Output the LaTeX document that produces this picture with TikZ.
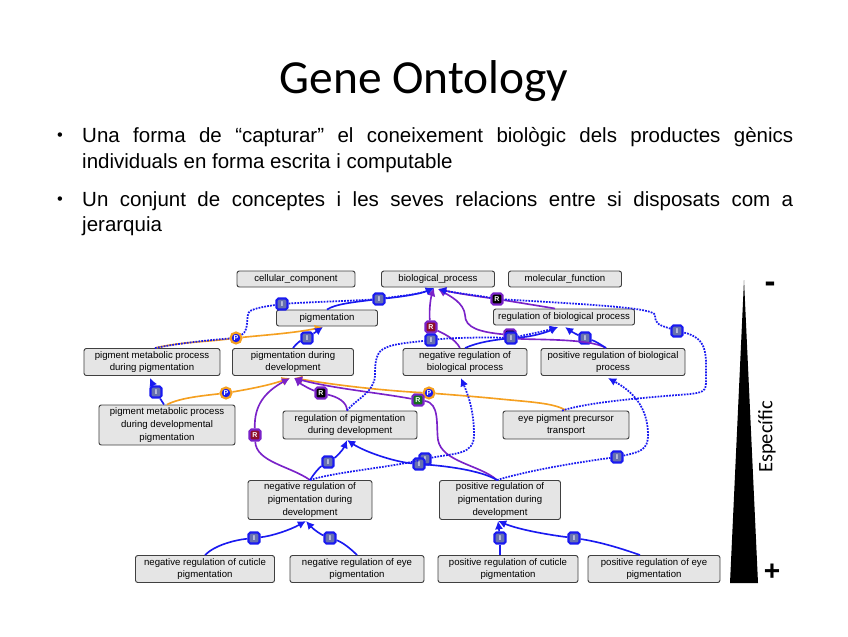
\documentclass[tikz,border=0pt]{standalone}
\usepackage{fontspec}
\setmainfont{Liberation Sans}
\newfontfamily\titlefont{Carlito}
\usetikzlibrary{arrows.meta, calc}
\definecolor{badgeblue}{HTML}{6670B0}
\definecolor{isablue}{HTML}{1A1AF0}
\definecolor{partorange}{HTML}{F5A020}
\definecolor{regpurple}{HTML}{7A22C8}
\definecolor{regred}{HTML}{8E0F2A}
\definecolor{reggreen}{HTML}{14701E}
\tikzset{
  termbox/.style={draw=black!75, line width=0.8pt, rounded corners=2pt, fill=black!10, align=center, font=\fontsize{8.2}{11}\selectfont, inner sep=0pt},
  isaedge/.style={draw=isablue, line width=1.4pt},
  dotedge/.style={draw=isablue, line width=1.5pt, densely dotted},
  partedge/.style={draw=partorange, line width=1.4pt},
  regedge/.style={draw=regpurple, line width=1.4pt},
  badge/.style={rectangle, rounded corners=1.5pt, minimum size=0.33cm, inner sep=0pt, line width=1.8pt, text=white, font=\fontsize{6}{6}\bfseries\selectfont},
  ibadge/.style={badge, draw=isablue, fill=badgeblue},
  pbadge/.style={badge, circle, minimum size=0.33cm, draw=partorange, fill=isablue},
  rblack/.style={badge, draw=regpurple, fill=black},
  rred/.style={badge, draw=regpurple, fill=regred},
  rgreen/.style={badge, draw=regpurple, fill=reggreen},
  bodytext/.style={anchor=north west, inner sep=0pt, text width=21.33cm, align=justify, font=\fontsize{17.5}{22}\selectfont}
}

\begin{document}
\begin{tikzpicture}[x=0.03cm, y=-0.03cm, >={Latex[length=7pt,width=7pt]}]
\useasboundingbox (0,0) rectangle (848,636);

% Title and bullets
\node[font=\titlefont\fontsize{40.5}{44}\selectfont, inner sep=0pt] (title) at (424,81) {Gene Ontology};
\node[font=\fontsize{14}{22}\selectfont, inner sep=0pt] (dot1) at (60,137) {•};
\node[bodytext] (text1) at (82,127) {Una forma de “capturar” el coneixement biològic dels productes gènics\linebreak individuals en forma escrita i computable};
\node[font=\fontsize{14}{22}\selectfont, inner sep=0pt] (dot2) at (60,201) {•};
\node[bodytext] (text2) at (82,191) {Un conjunt de conceptes i les seves relacions entre si disposats com a\linebreak jerarquia};

% Term boxes
\node[termbox, minimum width=3.54cm, minimum height=0.48cm] (cellular) at (296,279) {cellular\_component};
\node[termbox, minimum width=3.39cm, minimum height=0.48cm] (biological) at (438,279) {biological\_process};
\node[termbox, minimum width=3.39cm, minimum height=0.48cm] (molecular) at (565,279) {molecular\_function};
\node[termbox, minimum width=3.03cm, minimum height=0.48cm] (pigm) at (327,318) {pigmentation};
\node[termbox, minimum width=4.23cm, minimum height=0.48cm] (regbio) at (564,317) {regulation of biological process};
\node[termbox, minimum width=4.08cm, minimum height=0.81cm] (metapigm) at (152,362) {pigment metabolic process\\during pigmentation};
\node[termbox, minimum width=3.63cm, minimum height=0.81cm] (pigmdev) at (293,362) {pigmentation during\\development};
\node[termbox, minimum width=3.72cm, minimum height=0.81cm] (negbio) at (465,362) {negative regulation of\\biological process};
\node[termbox, minimum width=4.32cm, minimum height=0.81cm] (posbio) at (613,362) {positive regulation of biological\\process};
\node[termbox, minimum width=4.08cm, minimum height=1.20cm] (metadev) at (167,425) {pigment metabolic process\\during developmental\\pigmentation};
\node[termbox, minimum width=4.02cm, minimum height=0.84cm] (regpigm) at (350,425) {regulation of pigmentation\\during development};
\node[termbox, minimum width=3.78cm, minimum height=0.84cm] (eyetrans) at (566,425) {eye pigment precursor\\transport};
\node[termbox, minimum width=3.72cm, minimum height=1.17cm] (negpigm) at (310,500) {negative regulation of\\pigmentation during\\development};
\node[termbox, minimum width=3.63cm, minimum height=1.17cm] (pospigm) at (500,500) {positive regulation of\\pigmentation during\\development};
\node[termbox, minimum width=4.17cm, minimum height=0.81cm] (negcut) at (205,569) {negative regulation of cuticle\\pigmentation};
\node[termbox, minimum width=4.02cm, minimum height=0.81cm] (negeye) at (357,569) {negative regulation of eye\\pigmentation};
\node[termbox, minimum width=4.20cm, minimum height=0.81cm] (poscut) at (508,569) {positive regulation of cuticle\\pigmentation};
\node[termbox, minimum width=3.96cm, minimum height=0.81cm] (poseye) at (654,569) {positive regulation of eye\\pigmentation};

% Arrow targets
\coordinate (tipbio) at (434,288);
\coordinate (tipbiob) at (438,289);
\coordinate (tippigm) at (323,327);
\coordinate (tipregbio) at (558,327);
\coordinate (tipregbiob) at (565,327);
\coordinate (tipdev) at (290,378);
\coordinate (tipdevb) at (294,378);
\coordinate (tipmeta) at (150,378);
\coordinate (tipnegbio) at (461,378);
\coordinate (tipposbio) at (608,378);
\coordinate (tipregpigm) at (347,440);
\coordinate (tipnegpigm) at (306,521);
\coordinate (tippospigm) at (498,521);

% Relation badges
\node[ibadge] (b1) at (379,299) {I};
\node[ibadge] (b2) at (282,304) {I};
\node[pbadge] (b3) at (236,338) {P};
\node[ibadge] (b4) at (307,338) {I};
\node[ibadge] (b5) at (156,392) {I};
\node[pbadge] (b6) at (226,393) {P};
\node[rblack] (b7) at (321,393) {R};
\node[rred] (b8) at (255,435) {R};
\node[pbadge] (b10) at (429,393) {P};
\node[rgreen] (b9) at (418,400) {R};
\node[rred] (b11) at (431,327) {R};
\node[ibadge] (b12) at (431,340) {I};
\node[rblack] (b13) at (497,299) {R};
\node[rblack] (b14a) at (510,335) {};
\node[ibadge] (b14) at (511,338) {I};
\node[ibadge] (b15) at (585,338) {I};
\node[ibadge] (b16) at (677,331) {I};
\node[ibadge] (b17) at (617,457) {I};
\node[ibadge] (b18) at (328,462) {I};
\node[ibadge] (b19) at (425,459) {I};
\node[ibadge] (b20) at (419,464) {I};
\node[ibadge] (b21) at (254,538) {I};
\node[ibadge] (b22) at (330,538) {I};
\node[ibadge] (b23) at (500,538) {I};
\node[ibadge] (b24) at (574,538) {I};

% Part of
\draw[partedge] (metapigm.north) ++(3,0) .. controls (180,342) and (205,342) .. (b3);
\draw[->, partedge] (b3) .. controls (265,335) and (295,333) .. (tippigm);
\draw[partedge] (metadev.north) .. controls (180,398) and (200,396) .. (b6);
\draw[->, partedge] (b6) .. controls (250,389) and (270,385) .. (tipdev);
\draw[partedge] (eyetrans.north) .. controls (555,403) and (530,402) .. (500,399) .. controls (480,397) and (455,395) .. (b10);
\draw[->, partedge] (b10) .. controls (390,391) and (340,386) .. (tipdevb);

% Regulates
\draw[regedge] (negpigm.north) .. controls (290,466) and (256,462) .. (b8);
\draw[->, regedge] (b8) .. controls (254,405) and (265,392) .. (tipdev);
\draw[regedge] (regpigm.north) ++(-3,0) .. controls (347,402) and (338,397) .. (b7);
\draw[->, regedge] (b7) .. controls (312,390) and (302,385) .. (tipdevb);
\draw[regedge] (pospigm.north) ++(-3,0) .. controls (480,465) and (442,462) .. (438,440) .. controls (436,425) and (440,403) .. (b9);
\draw[->, regedge] (b9) .. controls (380,393) and (330,388) .. (tipdevb);
\draw[regedge] (negbio.north) ++(-5,0) .. controls (455,338) and (440,332) .. (b11);
\draw[->, regedge] (b11) .. controls (429,315) and (430,300) .. (tipbio);
\draw[regedge] (posbio.north) ++(-7,0) .. controls (590,338) and (530,340) .. (b14);
\draw[->, regedge] (b14a) .. controls (480,332) and (465,328) .. (465,315) .. controls (464,303) and (450,296) .. (tipbiob);
\draw[regedge] (regbio.north) ++(-9,0) .. controls (540,306) and (515,302) .. (b13);
\draw[->, regedge] (b13) .. controls (475,296) and (455,293) .. (tipbiob);

% Is a, solid
\draw[isaedge] (pigm.north) .. controls (335,304) and (355,302) .. (b1);
\draw[->, isaedge] (b1) .. controls (400,297) and (420,294) .. (tipbio);
\draw[isaedge] (pigmdev.north) .. controls (296,344) and (300,341) .. (b4);
\draw[->, isaedge] (b4) -- (tippigm);
\draw[isaedge] (metadev.north) ++(-3,0) -- (b5);
\draw[->, isaedge] (b5) -- (tipmeta);
\draw[isaedge] (negbio.north) .. controls (478,342) and (495,340) .. (b14);
\draw[->, isaedge] (b14) .. controls (530,337) and (545,333) .. (tipregbio);
\draw[isaedge] (posbio.north) ++(-7,0) .. controls (600,344) and (595,341) .. (b15);
\draw[->, isaedge] (b15) .. controls (578,335) and (572,332) .. (tipregbiob);
\draw[isaedge] (negpigm.north) .. controls (315,472) and (320,467) .. (b18);
\draw[->, isaedge] (b18) .. controls (336,457) and (343,450) .. (tipregpigm);
\draw[isaedge] (pospigm.north) ++(-3,0) .. controls (480,470) and (445,466) .. (b20);
\draw[->, isaedge] (b20) .. controls (395,462) and (365,452) .. (tipregpigm);
\draw[isaedge] (negcut.north) .. controls (215,545) and (235,540) .. (b21);
\draw[->, isaedge] (b21) .. controls (272,536) and (290,530) .. (tipnegpigm);
\draw[isaedge] (negeye.north) .. controls (350,548) and (342,542) .. (b22);
\draw[->, isaedge] (b22) .. controls (322,535) and (314,530) .. (tipnegpigm);
\draw[isaedge] (poscut.north) ++(-8,0) -- (b23);
\draw[->, isaedge] (b23) -- (tippospigm);
\draw[isaedge] (poseye.north) ++(-14,0) .. controls (620,548) and (600,542) .. (b24);
\draw[->, isaedge] (b24) .. controls (550,535) and (520,530) .. (tippospigm);

% Is a, dotted
\draw[dotedge] (metapigm.north) ++(3,0) .. controls (180,343) and (210,340) .. (b3);
\draw[dotedge] (b3) .. controls (250,330) and (245,315) .. (250,311) .. controls (255,308) and (268,306) .. (b2);
\draw[dotedge] (b2) .. controls (310,302) and (350,301) .. (b1);
\draw[->, dotedge] (b1) .. controls (400,296) and (420,294) .. (tipbio);
\draw[dotedge] (regpigm.north) ++(-3,0) .. controls (355,400) and (375,392) .. (375,375) .. controls (375,355) and (378,350) .. (390,346) .. controls (400,343) and (415,342) .. (b12);
\draw[dotedge] (b12) .. controls (450,338) and (480,337) .. (b14);
\draw[->, dotedge] (b14) .. controls (530,334) and (545,331) .. (tipregbio);
\draw[dotedge] (eyetrans.north) ++(-4,0) .. controls (590,402) and (640,398) .. (690,394) .. controls (707,392) and (706,390) .. (706,375) .. controls (706,355) and (708,338) .. (b16);
\draw[dotedge] (b16) .. controls (660,325) and (655,325) .. (655,315) .. controls (653,308) and (600,305) .. (b13);
\draw[->, dotedge] (b13) .. controls (475,295) and (455,293) .. (tipbiob);
\draw[dotedge] (negpigm.north) .. controls (335,472) and (385,468) .. (b19);
\draw[->, dotedge] (b19) .. controls (455,453) and (474,455) .. (474,435) .. controls (474,410) and (468,395) .. (tipnegbio);
\draw[dotedge] (pospigm.north) ++(-3,0) .. controls (530,470) and (580,462) .. (b17);
\draw[->, dotedge] (b17) .. controls (640,452) and (648,450) .. (648,435) .. controls (648,405) and (630,390) .. (tipposbio);

% Specificity wedge
\fill[black] (744,280) -- (758,583) -- (730,583) -- cycle;
\node[font=\fontsize{28}{28}\bfseries\selectfont, inner sep=0pt] (minus) at (770,287) {-};
\node[font=\fontsize{24}{24}\bfseries\selectfont, inner sep=0pt] (plus) at (772,572) {+};
\node[rotate=90, font=\titlefont\fontsize{17.5}{18}\selectfont, inner sep=0pt] (specific) at (767,437) {Específic};
\end{tikzpicture}
\end{document}
